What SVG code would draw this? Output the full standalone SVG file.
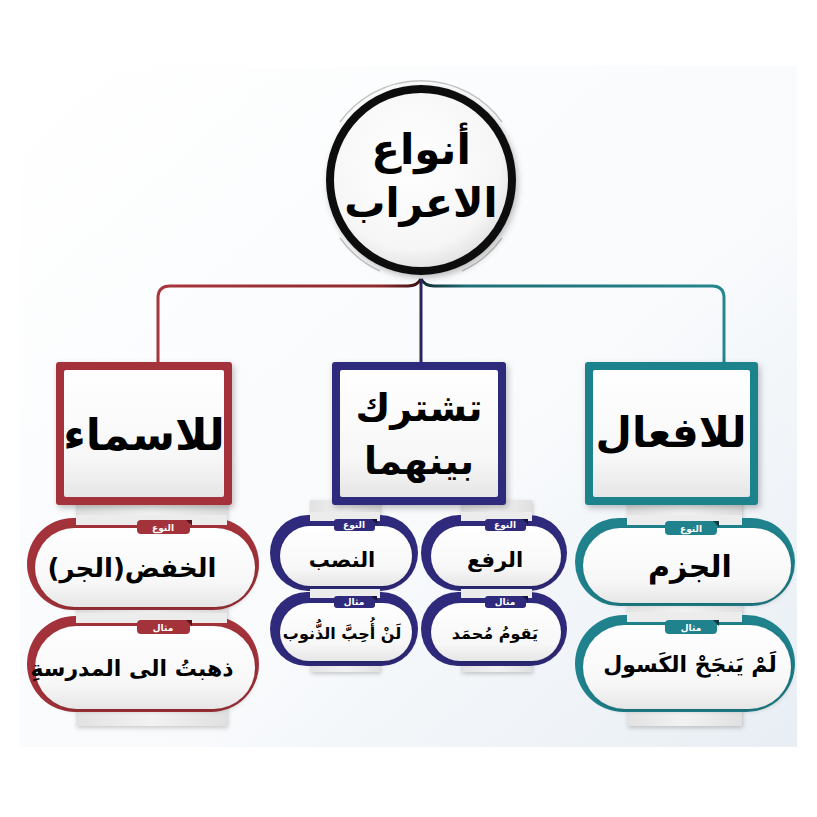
<svg xmlns="http://www.w3.org/2000/svg" width="817" height="817" viewBox="0 0 817 817">
<defs>
<linearGradient id="bg" x1="0" y1="0" x2="1" y2="1">
<stop offset="0" stop-color="#ffffff"/><stop offset="0.6" stop-color="#f8fafc"/><stop offset="1" stop-color="#e8eef4"/>
</linearGradient>
<linearGradient id="wh" x1="0" y1="0" x2="0" y2="1">
<stop offset="0" stop-color="#ffffff"/><stop offset="0.7" stop-color="#f7f7f7"/><stop offset="1" stop-color="#e6e6e6"/>
</linearGradient>
<linearGradient id="strip" x1="0" y1="0" x2="1" y2="0">
<stop offset="0" stop-color="#e2e2e2"/><stop offset="0.5" stop-color="#f2f2f2"/><stop offset="1" stop-color="#e0e0e0"/>
</linearGradient>
<radialGradient id="cg" cx="0.45" cy="0.4" r="0.6">
<stop offset="0" stop-color="#ffffff"/><stop offset="0.8" stop-color="#f6f6f6"/><stop offset="1" stop-color="#e2e2e2"/>
</radialGradient>
<linearGradient id="redl" x1="0" y1="0" x2="1" y2="0">
<stop offset="0" stop-color="#a8363c"/><stop offset="0.85" stop-color="#8e2a2e"/><stop offset="1" stop-color="#3a1010"/>
</linearGradient>
<linearGradient id="teall" x1="0" y1="0" x2="1" y2="0">
<stop offset="0" stop-color="#0e2a2e"/><stop offset="0.15" stop-color="#1f6f76"/><stop offset="1" stop-color="#24868f"/>
</linearGradient>
<filter id="sh" x="-10%" y="-10%" width="130%" height="130%">
<feDropShadow dx="2" dy="3" stdDeviation="3" flood-color="#000" flood-opacity="0.25"/>
</filter>
<filter id="sh2" x="-10%" y="-10%" width="130%" height="130%">
<feDropShadow dx="1" dy="2" stdDeviation="2" flood-color="#000" flood-opacity="0.2"/>
</filter>
</defs>
<style>
text{font-family:'DejaVu Sans','Noto Sans',sans-serif;font-weight:bold;text-anchor:middle;fill:#000}
.red{fill:#a3323a}.blue{fill:#2f2a7c}.teal{fill:#1f828c}
.tagt{fill:#fff;font-size:9px}
.inner{fill:url(#wh)}
.strip{fill:url(#strip);filter:url(#sh2)}
</style>
<rect x="20" y="66" width="777" height="681" fill="url(#bg)"/>

<g id="connectors" fill="none" stroke-width="3">
<path d="M158 362 V298 Q158 286 170 286 H408 Q417 286 421 279" stroke="url(#redl)"/>
<path d="M724 362 V298 Q724 286 712 286 H434 Q425 286 421 279" stroke="url(#teall)"/>
<path d="M421 279 V362" stroke="#2a2560"/>
</g>

<g id="root">
<path d="M340 122 A100 100 0 0 1 502 122 M340 238 A100 100 0 0 0 380 271 M502 238 A100 100 0 0 1 462 271" fill="none" stroke="#c4c4c4" stroke-width="1.5"/>
<circle cx="421" cy="180" r="91" fill="url(#cg)" stroke="#111" stroke-width="8" filter="url(#sh)"/>
<text x="421" y="164" font-size="42">أنواع</text>
<text x="421" y="217" font-size="41">الاعراب</text>
</g>

<g id="box-nouns">
<rect x="76" y="500" width="151" height="226" class="strip"/>
<rect x="56" y="362" width="176" height="143" rx="3" class="red" filter="url(#sh)"/>
<rect x="64" y="370" width="160" height="127" rx="2" class="inner"/>
<text x="144" y="450" font-size="44">للاسماء</text>
</g>

<g id="box-shared">
<rect x="310" y="500" width="70" height="172" class="strip"/>
<rect x="461" y="500" width="71" height="172" class="strip"/>
<rect x="332" y="362" width="174" height="143" rx="3" class="blue" filter="url(#sh)"/>
<rect x="340" y="370" width="158" height="127" rx="2" class="inner"/>
<text x="419" y="421" font-size="38">تشترك</text>
<text x="419" y="474" font-size="38">بينهما</text>
</g>

<g id="box-verbs">
<rect x="627" y="500" width="115" height="226" class="strip"/>
<rect x="585" y="362" width="173" height="143" rx="3" class="teal" filter="url(#sh)"/>
<rect x="593" y="370" width="157" height="127" rx="2" class="inner"/>
<text x="671" y="447" font-size="42">للافعال</text>
</g>

<!-- left column pills -->
<g id="pill-jarr">
<rect x="27" y="518" width="232" height="92" rx="46" class="red"/>
<rect x="76" y="515" width="151" height="10" fill="#ececec"/>
<rect x="35" y="528" width="220" height="79" rx="39.5" class="inner" filter="url(#sh2)"/>
<rect x="137" y="520" width="53" height="14" rx="4" class="red"/>
<path d="M186 520 L192 520 L192 526 Z" fill="#5a1418"/>
<text x="163" y="530.5" class="tagt">النوع</text>
<text x="132" y="577" font-size="26">الخفض(الجر)</text>
</g>
<g id="pill-jarr-ex">
<rect x="27" y="616" width="232" height="96" rx="48" class="red"/>
<rect x="76" y="613" width="151" height="10" fill="#ececec"/>
<rect x="35" y="626" width="220" height="83" rx="41.5" class="inner" filter="url(#sh2)"/>
<rect x="137" y="620" width="53" height="14" rx="4" class="red"/>
<path d="M186 620 L192 620 L192 626 Z" fill="#5a1418"/>
<text x="163" y="630.5" class="tagt">مثال</text>
<text x="132" y="676" font-size="22">ذهبتُ الى المدرسةِ</text>
</g>

<!-- middle column pills -->
<g id="pill-nasb">
<rect x="270" y="515" width="148" height="76" rx="38" class="blue"/>
<rect x="310" y="512" width="70" height="9" fill="#ececec"/>
<rect x="280" y="526" width="132" height="60" rx="30" class="inner" filter="url(#sh2)"/>
<rect x="334" y="519" width="41" height="12" rx="3" class="blue"/>
<path d="M371 519 L377 519 L377 524 Z" fill="#15123e"/>
<text x="354" y="528" class="tagt" font-size="8">النوع</text>
<text x="342" y="567" font-size="21">النصب</text>
</g>
<g id="pill-raf">
<rect x="421" y="515" width="146" height="76" rx="38" class="blue"/>
<rect x="461" y="512" width="71" height="9" fill="#ececec"/>
<rect x="431" y="526" width="130" height="60" rx="30" class="inner" filter="url(#sh2)"/>
<rect x="485" y="519" width="41" height="12" rx="3" class="blue"/>
<path d="M522 519 L528 519 L528 524 Z" fill="#15123e"/>
<text x="505" y="528" class="tagt" font-size="8">النوع</text>
<text x="495" y="567" font-size="21">الرفع</text>
</g>
<g id="pill-nasb-ex">
<rect x="270" y="592" width="148" height="74" rx="37" class="blue"/>
<rect x="310" y="589" width="70" height="9" fill="#ececec"/>
<rect x="280" y="603" width="132" height="58" rx="29" class="inner" filter="url(#sh2)"/>
<rect x="334" y="596" width="41" height="12" rx="3" class="blue"/>
<path d="M371 596 L377 596 L377 601 Z" fill="#15123e"/>
<text x="354" y="605" class="tagt" font-size="8">مثال</text>
<text x="342" y="639" font-size="16">لَنْ أُحِبَّ الذُّنوب</text>
</g>
<g id="pill-raf-ex">
<rect x="421" y="592" width="146" height="74" rx="37" class="blue"/>
<rect x="461" y="589" width="71" height="9" fill="#ececec"/>
<rect x="431" y="603" width="130" height="58" rx="29" class="inner" filter="url(#sh2)"/>
<rect x="485" y="596" width="41" height="12" rx="3" class="blue"/>
<path d="M522 596 L528 596 L528 601 Z" fill="#15123e"/>
<text x="505" y="605" class="tagt" font-size="8">مثال</text>
<text x="495" y="639" font-size="16">يَقومُ مُحمَد</text>
</g>

<!-- right column pills -->
<g id="pill-jazm">
<rect x="575" y="518" width="220" height="88" rx="44" class="teal"/>
<rect x="627" y="515" width="115" height="10" fill="#ececec"/>
<rect x="583" y="528" width="208" height="75" rx="37.5" class="inner" filter="url(#sh2)"/>
<rect x="665" y="521" width="52" height="14" rx="4" class="teal"/>
<path d="M713 521 L719 521 L719 527 Z" fill="#0c3a3f"/>
<text x="691" y="531.5" class="tagt">النوع</text>
<text x="690" y="577" font-size="30">الجزم</text>
</g>
<g id="pill-jazm-ex">
<rect x="575" y="615" width="220" height="97" rx="48.5" class="teal"/>
<rect x="627" y="612" width="115" height="10" fill="#ececec"/>
<rect x="583" y="625" width="208" height="84" rx="42" class="inner" filter="url(#sh2)"/>
<rect x="665" y="620" width="52" height="14" rx="4" class="teal"/>
<path d="M713 620 L719 620 L719 626 Z" fill="#0c3a3f"/>
<text x="691" y="630.5" class="tagt">مثال</text>
<text x="690" y="672" font-size="22">لَمْ يَنجَحْ الكَسول</text>
</g>
</svg>
